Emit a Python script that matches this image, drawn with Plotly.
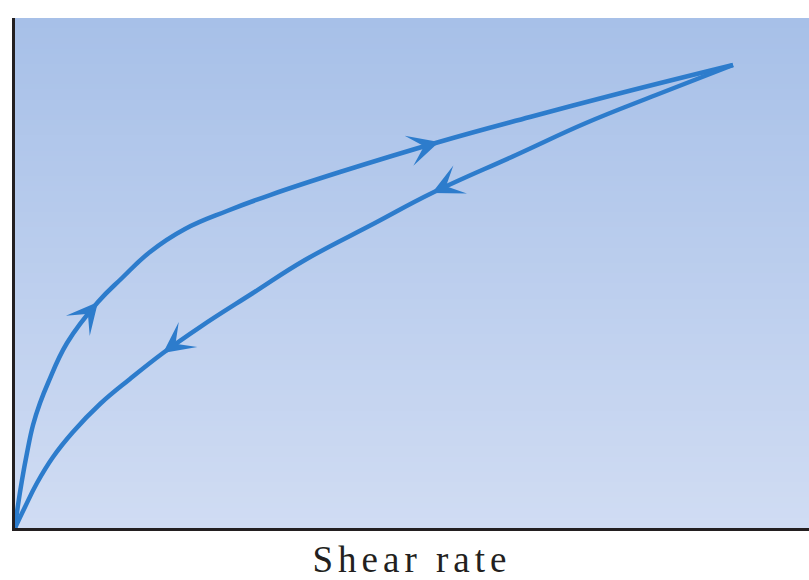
import math
import numpy as np
import plotly.graph_objects as go

# Forward (increasing shear) curve, data units (0-100 on both axes)
up_x = [0, 0.38, 0.88, 1.51, 2.27, 3.15, 4.16, 6.55, 10.45, 13.48, 17.00, 21.41, 26.70,
        32.12, 40.93, 53.40, 64.86, 76.32, 90.43]
up_y = [0, 4.51, 9.41, 14.71, 20.20, 24.51, 28.43, 36.27, 44.31, 49.02, 54.12, 58.63, 62.16,
        65.29, 69.80, 75.69, 80.59, 85.29, 90.78]
# Return (decreasing shear) curve
down_x = [90.43, 80.73, 71.91, 63.10, 52.52, 45.34, 36.52, 29.97, 23.30, 18.64,
          14.48, 10.71, 7.30, 4.79, 2.77, 1.26, 0]
down_y = [90.78, 84.90, 79.41, 73.14, 65.69, 59.80, 52.55, 46.08, 39.41, 34.31,
          29.22, 24.31, 18.82, 13.92, 8.82, 4.12, 0]
# indices of arrow tips on each curve
up_arrows = [8, 15]
down_arrows = [4, 9]

x_label = "Shear rate"

LINE = "#2d7ccc"
BG_TOP = "#a7c0e8"
BG_BOTTOM = "#d0dcf3"

W, H = 809, 580
ML, MR, MT, MB = 15, 0, 18, 52
PX_X = (W - ML - MR) / 100.0   # pixels per x unit
PX_Y = (H - MT - MB) / 100.0   # pixels per y unit

fig = go.Figure()

# gradient background
edges = np.linspace(0, 100, 101)
fig.add_trace(go.Heatmap(
    x=[0, 100], y=edges, z=[[i] for i in range(100)],
    colorscale=[[0, BG_BOTTOM], [1, BG_TOP]], showscale=False,
    hoverinfo="skip"))

for xs, ys in ((up_x, up_y), (down_x, down_y)):
    fig.add_trace(go.Scatter(x=xs, y=ys, mode="lines",
                             line=dict(color=LINE, width=4.5, shape="spline", smoothing=1.2),
                             hoverinfo="skip", showlegend=False))

anns = []
for xs, ys, idxs in ((up_x, up_y, up_arrows), (down_x, down_y, down_arrows)):
    for i in idxs:
        # tangent direction (in pixels) from neighbouring points
        dx = (xs[i + 1] - xs[i - 1]) * PX_X
        dy = (ys[i + 1] - ys[i - 1]) * PX_Y
        n = math.hypot(dx, dy)
        back = 14.0
        tx = xs[i] - back * dx / n / PX_X
        ty = ys[i] - back * dy / n / PX_Y
        anns.append(dict(x=xs[i], y=ys[i], ax=tx, ay=ty,
                         xref="x", yref="y", axref="x", ayref="y",
                         showarrow=True, arrowhead=3, arrowsize=1.3,
                         arrowwidth=4, arrowcolor=LINE, text="",
                         font=dict(size=1), borderpad=0))

fig.update_layout(
    width=W, height=H,
    margin=dict(l=ML, r=MR, t=MT, b=MB),
    paper_bgcolor="white", plot_bgcolor=BG_BOTTOM,
    showlegend=False,
    annotations=anns,
    xaxis=dict(range=[0, 100], showgrid=False, zeroline=False, showticklabels=False,
               ticks="", showline=True, linecolor="#231f20", linewidth=3,
               title=dict(text=x_label, standoff=24,
                          font=dict(family="Liberation Serif", size=37, color="#231f20"))),
    yaxis=dict(range=[0, 100], showgrid=False, zeroline=False, showticklabels=False,
               ticks="", showline=True, linecolor="#231f20", linewidth=3),
)

post = """
document.body.style.margin='0';
document.querySelectorAll('.xtitle').forEach(function(e){e.style.letterSpacing='5px';});
"""
fig.write_html("out.html", post_script=post, config={"displayModeBar": False})
